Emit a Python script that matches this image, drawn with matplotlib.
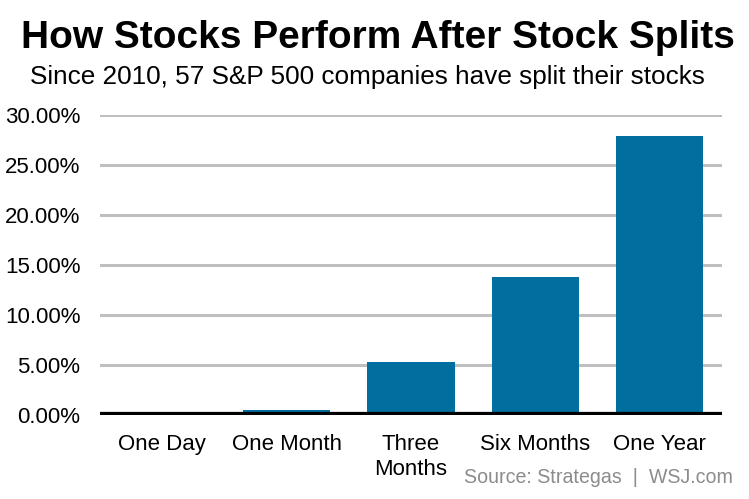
import matplotlib.pyplot as plt
from matplotlib.ticker import FuncFormatter

plt.rcParams['font.family'] = ['Liberation Sans', 'DejaVu Sans']

periods = ["One Day", "One Month", "Three\nMonths", "Six Months", "One Year"]
returns = [0.0, 0.5, 5.3, 13.8, 27.9]
yticks = [0, 5, 10, 15, 20, 25, 30]

fig = plt.figure(figsize=(7.49, 4.99), dpi=100)
ax = fig.add_axes([100/749, 84/499, 622/749, 300/499])

ax.bar(range(len(periods)), returns, width=0.7, color='#006f9f', zorder=3)
ax.set_xlim(-0.5, len(periods) - 0.5)
ax.set_ylim(0, 30)
ax.set_yticks(yticks)
ax.yaxis.set_major_formatter(FuncFormatter(lambda v, p: f"{v:.2f}%"))
ax.grid(axis='y', color='#bfbfbf', linewidth=2.2, zorder=0)
ax.axhline(0, color='black', linewidth=4.5, zorder=4)

for s in ax.spines.values():
    s.set_visible(False)
ax.tick_params(length=0, labelsize=16)
ax.tick_params(axis='y', pad=14)
ax.tick_params(axis='x', pad=14)
ax.set_xticks(range(len(periods)))
ax.set_xticklabels(periods, linespacing=1.2)

fig.text(0.505, 0.924, "How Stocks Perform After Stock Splits", ha='center', va='center',
         fontsize=28, fontweight='bold')
fig.text(0.491, 0.846, "Since 2010, 57 S&P 500 companies have split their stocks", ha='center',
         va='center', fontsize=18.8)
fig.text(0.979, 0.044, "Source: Strategas  |  WSJ.com", ha='right', va='center',
         fontsize=14.1, color='#8c8c8c')

fig.savefig("out.png", dpi=100)
